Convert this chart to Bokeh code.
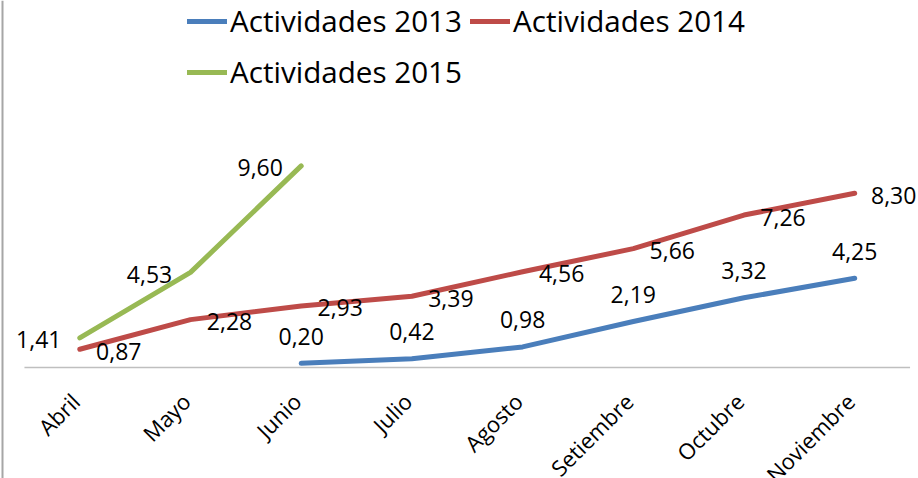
import math
from bokeh.plotting import figure
from bokeh.models import (ColumnDataSource, LabelSet, Legend, LegendItem, Range1d, Span)
from bokeh.core.properties import value
from bokeh.embed import file_html
from bokeh.resources import INLINE

# ---- data ----
months = ["Abril", "Mayo", "Junio", "Julio", "Agosto", "Setiembre", "Octubre", "Noviembre"]
months_2013 = ["Junio", "Julio", "Agosto", "Setiembre", "Octubre", "Noviembre"]
act_2013 = [0.20, 0.42, 0.98, 2.19, 3.32, 4.25]
months_2014 = ["Abril", "Mayo", "Junio", "Julio", "Agosto", "Setiembre", "Octubre", "Noviembre"]
act_2014 = [0.87, 2.28, 2.93, 3.39, 4.56, 5.66, 7.26, 8.30]
months_2015 = ["Abril", "Mayo", "Junio"]
act_2015 = [1.41, 4.53, 9.60]
series_names = ["Actividades 2013", "Actividades 2014", "Actividades 2015"]

FONT = "Open Sans"
C13, C14, C15 = "#4A7EBB", "#BE4B48", "#98B954"


def fmt(v):
    return f"{v:.2f}".replace(".", ",")


def src(ms, vs):
    return ColumnDataSource(dict(x=[months.index(m) for m in ms], v=vs, t=[fmt(v) for v in vs]))


s13, s14, s15 = src(months_2013, act_2013), src(months_2014, act_2014), src(months_2015, act_2015)
s_ticks = ColumnDataSource(dict(x=list(range(len(months))), v=[0] * len(months), t=months))

# ---- layout constants (pixels) ----
W, H = 918, 478
FIRST_CENTER_PX = 79.3
BAND = 110.7                     # px per month
PX_PER_UNIT = 21.0               # px per unit on y
BASE_Y = 367                     # px from top where value 0 lies
x_start = -FIRST_CENTER_PX / BAND
x_end = x_start + W / BAND

p = figure(width=W, height=H, output_backend="svg", toolbar_location=None,
           x_range=Range1d(x_start, x_end),
           y_range=Range1d(-(H - BASE_Y) / PX_PER_UNIT, BASE_Y / PX_PER_UNIT),
           min_border=0)
p.outline_line_color = None
p.xgrid.visible = False
p.ygrid.visible = False
p.xaxis.visible = False
p.yaxis.visible = False
p.background_fill_color = "white"
p.border_fill_color = "white"

# chart-area left border
p.add_layout(Span(location=x_start + 2 / BAND, dimension="height",
                  line_color="#A6A6A6", line_width=2))

# category axis baseline (value 0), spanning the month bands
p.segment(x0=[-0.5], y0=[0], x1=[len(months) - 0.5], y1=[0],
          line_color="#BFBFBF", line_width=1.5)

# month names under the baseline, rotated 45 degrees
p.add_layout(LabelSet(x="x", y="v", text="t", source=s_ticks, angle=math.pi / 4,
                      x_offset=-15, y_offset=-19, text_align="right", text_baseline="top",
                      text_font=value(FONT), text_font_size="22px", text_color="black"))

r13 = p.line("x", "v", source=s13, line_width=5, color=C13, line_cap="round", line_join="round")
r14 = p.line("x", "v", source=s14, line_width=5, color=C14, line_cap="round", line_join="round")
r15 = p.line("x", "v", source=s15, line_width=5, color=C15, line_cap="round", line_join="round")

for s, dx, dy in [(s13, 0, 27), (s14, 39, -2), (s15, -41, -2)]:
    p.add_layout(LabelSet(x="x", y="v", text="t", source=s, x_offset=dx, y_offset=dy,
                          text_align="center", text_baseline="middle",
                          text_font_size="23px", text_font=value(FONT), text_color="black"))

# legend: laid out as in the original (two entries on the first row, one on the second)
for name, rend, loc in [(series_names[0], r13, (187, 437)),
                        (series_names[1], r14, (470, 437)),
                        (series_names[2], r15, (187, 386))]:
    p.add_layout(Legend(items=[LegendItem(label=name, renderers=[rend])], location=loc,
                        label_text_font=FONT, label_text_font_size="29.6px",
                        label_text_color="black", glyph_width=40, label_standoff=3,
                        padding=0, margin=0, border_line_alpha=0, background_fill_alpha=0))

open("out.html", "w").write(file_html(p, INLINE))
